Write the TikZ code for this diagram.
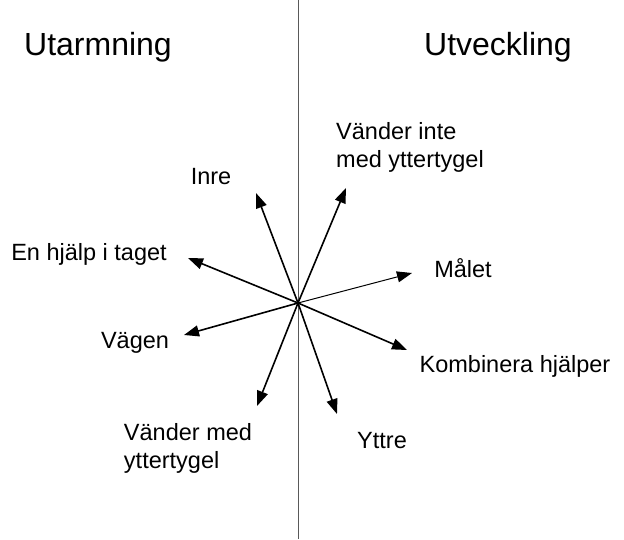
\documentclass[tikz,border=0pt]{standalone}
\usepackage{fontspec}
\setmainfont{Liberation Sans}
\usetikzlibrary{arrows.meta}

\begin{document}
\begin{tikzpicture}[
  x=1pt, y=-1pt, >={Triangle[length=15pt,width=11pt]},
  lbl/.style={font=\fontsize{23.5}{28}\selectfont,inner sep=0pt,align=left},
  ttl/.style={font=\fontsize{32}{36}\selectfont,inner sep=0pt},
  pil/.style={->,line width=1.6pt}
]
\useasboundingbox (0,0) rectangle (624,539);
\draw[gray!70!black,line width=1pt] (298,0) -- (298,539);

\node[ttl] (utarm) at (98,47) {Utarmning};
\node[ttl] (utveck) at (498,47) {Utveckling};

\coordinate (mitt) at (298,303);
\coordinate (pInre) at (256,193);
\coordinate (pVinte) at (346,188);
\coordinate (pHjalp) at (188,258);
\coordinate (pMal) at (412,273);
\coordinate (pVag) at (184,335);
\coordinate (pKomb) at (407,350);
\coordinate (pVmed) at (257,406);
\coordinate (pYttre) at (337,414);

\node[lbl] (inre) at (211,177) {Inre};
\node[lbl] (vinte) at (410,147) {Vänder inte\\med yttertygel};
\node[lbl] (hjalp) at (89,254) {En hjälp i taget};
\node[lbl] (mal) at (463,268) {Målet};
\node[lbl] (vag) at (135,343) {Vägen};
\node[lbl] (komb) at (515,366) {Kombinera hjälper};
\node[lbl] (vmed) at (188,448) {Vänder med\\yttertygel};
\node[lbl] (yttre) at (382,441) {Yttre};

\draw[pil] (mitt) -- (pInre);
\draw[pil] (mitt) -- (pVinte);
\draw[pil] (mitt) -- (pHjalp);
\draw[pil,line width=1pt] (mitt) -- (pMal);
\draw[pil] (mitt) -- (pVag);
\draw[pil] (mitt) -- (pKomb);
\draw[pil] (mitt) -- (pVmed);
\draw[pil] (mitt) -- (pYttre);
\end{tikzpicture}
\end{document}
